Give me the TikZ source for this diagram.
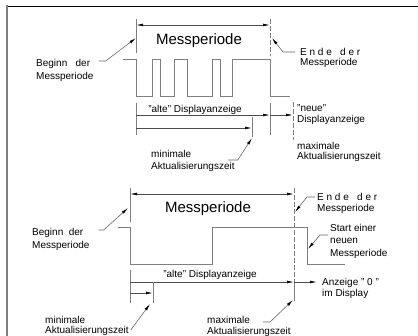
\documentclass[tikz,border=0pt]{standalone}
\usepackage{fontspec}
\setmainfont{Liberation Sans}
\usetikzlibrary{arrows.meta,calc}

\begin{document}
\begin{tikzpicture}[x=1pt,y=-1pt,
    >={Latex[length=7pt,width=2.8pt,color=black]},
    dim/.style={draw=black!70, line width=0.7pt},
    ext/.style={draw=black!50, line width=0.9pt},
    cut/.style={ext, dash pattern=on 5pt off 2pt},
    sig/.style={draw=black!50, line width=0.9pt},
    lead/.style={draw=black!60, line width=0.6pt, ->},
    txt/.style={font=\fontsize{10}{#1}\selectfont, align=left, inner sep=0pt, anchor=north west},
    txt/.default=11,
    alt/.style={font=\fontsize{10}{12}\selectfont, inner sep=0pt},
    big/.style={font=\fontsize{15}{18}\selectfont, inner sep=0pt}]
  \useasboundingbox (0,0) rectangle (418,336);
  % Rahmen
  \draw[line width=0.9pt] (7,6) -- (418,6);
  \draw[black!50, line width=2pt] (7,5) -- (7,336);

  % oben: Messperiode mit Impulsfolge
  \coordinate (b1) at (136,25);
  \coordinate (e1) at (270,25);
  \draw[ext] (136,19) -- (136,53);
  \draw[cut] (270,19) -- (270,56);
  \draw[dim,<->] (b1) -- (e1);
  \node[big] (mp1) at (199,41) {Messperiode};
  \draw[sig] (123,59) -| (136,96) -| (152,59) -| (160,96) -| (174,59) -| (187,96)
    -| (212,59) -| (220,96) -| (232,59) -| (270,96) -- (290,96);

  \node[txt=13] (beg1) at (36,59) {Beginn\ \ \ der\\Messperiode};
  \node[txt=10.5] (ende1) at (300,48) {E n d e\ \ \ d e r\\Messperiode};
  \coordinate (t1) at (136,38);
  \coordinate (t2) at (272,38);
  \draw[lead] ($(beg1.north east)+(5,2)$) -- ++(7,0) -- (t1);
  \draw[lead] ($(ende1.north west)+(-5,4)$) -- ++(-12,0) -- (t2);

  \coordinate (a1) at (136,115);
  \coordinate (a2) at (270,115);
  \coordinate (a3) at (293,115);
  \draw[ext] (136,103) -- (136,135);
  \draw[ext] (270,103) -- (270,135);
  \draw[cut] (293,102) -- (293,140);
  \draw[dim,->] (a1) -- (a2);
  \draw[dim,->] (a2) -- (a3);
  \node[alt] (alte1) at (195,110) {"alte" Displayanzeige};
  \coordinate (m1) at (136,128);
  \coordinate (m2) at (252,128);
  \draw[ext] (252,117) -- (252,137);
  \draw[dim,->] (m1) -- (m2);

  \node[txt] (neue1) at (297,104) {"neue"\\Displayanzeige};
  \node[txt=10] (max1) at (297,142) {maximale\\Aktualisierungszeit};
  \node[txt=12] (min1) at (151,150) {minimale\\Aktualisierungszeit};
  \coordinate (t3) at (252,138);
  \draw[lead] ($(min1.north east)+(-7,10)$) -- ++(10,0) -- (t3);

  % unten: Messperiode ohne Impuls
  \coordinate (b2) at (130,194);
  \coordinate (e2) at (294,194);
  \draw[ext] (130,188) -- (130,222);
  \draw[cut] (294,188) -- (294,280);
  \draw[ext] (294,280) -- (294,301);
  \draw[dim,<->] (b2) -- (e2);
  \node[big] (mp2) at (208,209) {Messperiode};
  \draw[sig] (118,227) -| (130,264) -| (212,227) -| (307,264) -- (345,264);

  \node[txt=13] (beg2) at (32,228) {Beginn\ \ der\\Messperiode};
  \node[txt] (ende2) at (317,193) {E n d e\ \ \ d e r\\Messperiode};
  \node[txt=12.5] (start2) at (330,224) {Start einer\\neuen\\Messperiode};
  \coordinate (t4) at (128,208);
  \coordinate (t5) at (295,212);
  \coordinate (t6) at (308,249);
  \draw[lead] ($(beg2.north east)+(9,2)$) -- ++(5,0) -- (t4);
  \draw[lead] ($(ende2.north west)+(-2,4)$) -- ++(-8,0) -- (t5);
  \draw[lead] ($(start2.north west)+(-2,11)$) -- ++(-8,0) -- (t6);

  \coordinate (c1) at (130,282);
  \coordinate (c2) at (294,282);
  \coordinate (c3) at (317,282);
  \draw[ext] (130,270) -- (130,303);
  \draw[dim,->] (c1) -- (c2);
  \draw[dim,->] (c2) -- (c3);
  \node[alt] (alte2) at (210,275) {"alte" Displayanzeige};
  \node[txt] (anz2) at (322,278) {Anzeige " 0 "\\im Display};
  \coordinate (n1) at (130,293);
  \coordinate (n2) at (153,293);
  \draw[ext] (153,282) -- (153,303);
  \draw[dim,->] (n1) -- (n2);

  \node[txt=10.5] (min2) at (45,316) {minimale\\Aktualisierungszeit};
  \node[txt] (max2) at (207,316) {maximale\\Aktualisierungszeit};
  \coordinate (t7) at (150,304);
  \coordinate (t8) at (293,300);
  \draw[lead] ($(min2.north east)+(2,14)$) -- (t7);
  \draw[lead] ($(max2.north west)+(56,6)$) -- ++(7,0) -- (t8);
\end{tikzpicture}
\end{document}
